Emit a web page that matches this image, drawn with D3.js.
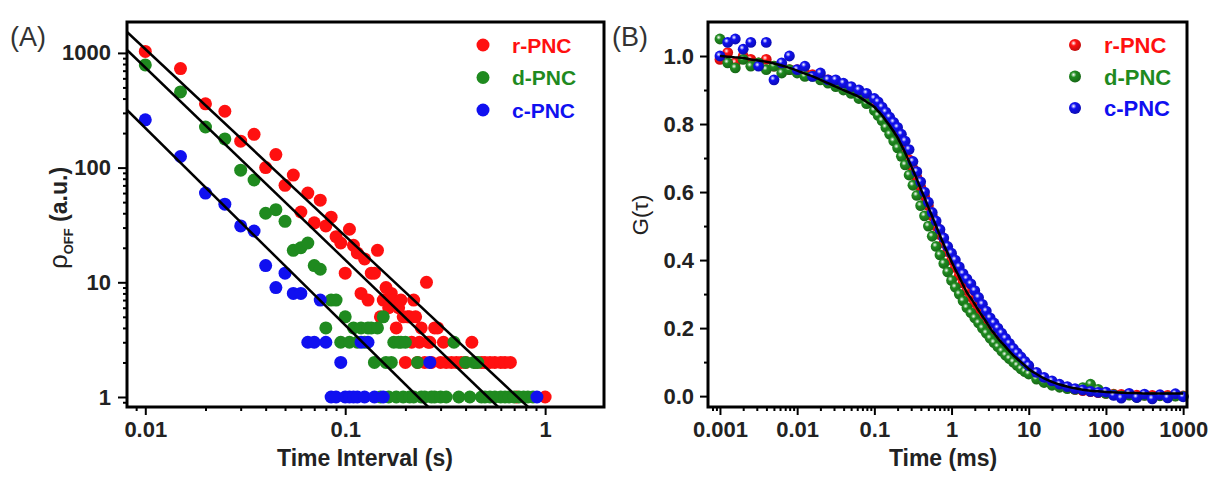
<!DOCTYPE html>
<html>
<head>
<meta charset="utf-8">
<script src="https://cdn.jsdelivr.net/npm/d3@7.9.0/dist/d3.min.js"></script>
<style>
  body { margin: 0; background: #fff; }
  text { font-family: "Liberation Sans", Arial, sans-serif; }
</style>
</head>
<body>
<script>
// ---- panel A: OFF-time distributions (time interval s, counts) ----
const rPNC_A = [[0.01,1030],[0.015,730],[0.02,360],[0.025,310],[0.03,170],[0.035,195],[0.04,100],[0.045,130],[0.05,70],[0.055,86],
  [0.06,41],[0.065,60],[0.07,33],[0.075,52],[0.08,31],[0.085,37],[0.09,25],[0.095,22],[0.1,12],[0.105,29],[0.11,21],[0.115,18],
  [0.12,8],[0.125,16],[0.13,7],[0.135,12],[0.14,12],[0.145,19],[0.15,5],[0.155,7],[0.16,9],[0.165,6],[0.17,8],[0.175,7],[0.18,4],
  [0.185,6],[0.19,7],[0.195,5],[0.2,2],[0.205,5],[0.21,5],[0.215,3],[0.22,7],[0.225,5],[0.23,2],[0.235,3],[0.24,4],[0.25,2],
  [0.255,10],[0.26,3],[0.265,3],[0.27,2],[0.28,4],[0.29,4],[0.3,2],[0.31,3],[0.32,2],[0.34,2],[0.36,2],[0.38,2],[0.4,2],[0.43,3],
  [0.45,2],[0.48,2],[0.5,2],[0.53,2],[0.56,2],[0.6,2],[0.63,2],[0.67,2],[0.72,1],[1.0,1]];
const dPNC_A = [[0.01,786],[0.015,457],[0.02,226],[0.025,178],[0.03,95],[0.035,78],[0.04,40],[0.045,43],[0.05,34],[0.055,19],
  [0.06,20],[0.065,22],[0.07,14],[0.075,13],[0.08,4],[0.085,7],[0.09,7],[0.095,3],[0.1,5],[0.105,3],[0.11,4],[0.115,3],[0.12,4],
  [0.125,3],[0.13,4],[0.135,4],[0.14,2],[0.145,4],[0.15,1],[0.155,5],[0.16,2],[0.165,1],[0.17,2],[0.175,3],[0.18,1],[0.185,3],
  [0.19,3],[0.195,1],[0.2,3],[0.21,1],[0.22,1],[0.23,2],[0.24,1],[0.25,1],[0.27,1],[0.28,1],[0.3,1],[0.32,1],[0.35,3],[0.37,1],
  [0.4,2],[0.42,1],[0.44,2],[0.46,2],[0.48,1],[0.5,1],[0.53,1],[0.56,1],[0.6,1],[0.63,1],[0.66,1],[0.7,1],[0.74,1],[0.78,1],
  [0.82,1],[0.87,1]];
const cPNC_A = [[0.01,261],[0.015,125],[0.02,60],[0.025,48],[0.03,31],[0.035,28],[0.04,14],[0.045,9],[0.05,12],[0.055,8],
  [0.06,8],[0.065,3],[0.07,3],[0.075,7],[0.08,3],[0.085,1],[0.09,1],[0.095,2],[0.1,1],[0.105,1],[0.11,1],[0.115,1],[0.12,3],
  [0.125,1],[0.13,3],[0.14,1],[0.155,1],[0.265,2],[0.91,1]];
// power-law fit lines, endpoints in data units
const fitsA = [
  { x0: 0.0081, y0: 1524, x1: 0.822, y1: 0.818 },
  { x0: 0.0081, y0: 1060, x1: 0.582, y1: 0.818 },
  { x0: 0.0081, y0: 318, x1: 0.26, y1: 0.818 }
];
const ticksAx = [0.01, 0.1, 1];
const ticksAy = [1, 10, 100, 1000];

// ---- panel B: FCS correlation curves (lag time ms) ----
const tauB = [0.001,0.00126,0.00158,0.002,0.00251,0.00316,0.00398,0.00501,0.00631,0.00794,
  0.01,0.0126,0.0158,0.02,0.0251,0.0316,0.0398,0.0501,0.0631,0.0794,
  0.1,0.112,0.126,0.141,0.158,0.178,0.2,0.224,0.251,0.282,0.316,0.355,0.398,0.447,0.501,0.562,0.631,0.708,0.794,0.891,
  1,1.12,1.26,1.41,1.58,1.78,2,2.24,2.51,2.82,3.16,3.55,3.98,4.47,5.01,5.62,6.31,7.08,7.94,8.91,
  10,12.6,15.8,20,25.1,31.6,39.8,50.1,63.1,79.4,
  100,126,158,200,251,316,398,501,631,794,1000];
const rPNC_B = [0.99,1.01,0.98,1.0,0.99,0.98,0.99,0.97,0.97,0.96,
  0.96,0.95,0.945,0.94,0.93,0.92,0.91,0.90,0.89,0.875,
  0.86,0.848,0.835,0.818,0.80,0.783,0.765,0.743,0.72,0.695,0.67,0.643,0.615,0.588,0.56,0.53,0.50,0.475,0.45,0.425,
  0.40,0.378,0.355,0.333,0.31,0.292,0.275,0.258,0.24,0.222,0.205,0.19,0.175,0.162,0.15,0.137,0.125,0.112,0.10,0.09,
  0.08,0.065,0.05,0.04,0.032,0.026,0.02,0.016,0.013,0.01,
  0.008,0.006,0.005,0.004,0.003,0.003,0.002,0.002,0.002,0.001,0.001];
const dPNC_B = [1.05,0.98,0.965,0.99,0.97,0.98,0.96,0.97,0.95,0.96,
  0.95,0.94,0.94,0.93,0.92,0.91,0.90,0.89,0.875,0.86,
  0.84,0.825,0.81,0.79,0.77,0.75,0.73,0.705,0.68,0.65,0.62,0.59,0.56,0.53,0.50,0.47,0.44,0.415,0.39,0.365,
  0.34,0.32,0.30,0.28,0.26,0.245,0.23,0.215,0.20,0.185,0.17,0.157,0.145,0.132,0.12,0.11,0.10,0.09,0.08,0.072,
  0.065,0.05,0.04,0.032,0.026,0.022,0.02,0.025,0.035,0.02,
  0.008,0.004,0.0,0.003,-0.004,0.002,-0.003,0.001,-0.002,0.0,-0.001];
const cPNC_B = [1.00,1.04,1.05,1.02,1.04,0.97,1.04,0.93,0.98,1.00,
  0.96,0.97,0.94,0.95,0.93,0.93,0.92,0.91,0.90,0.89,
  0.875,0.865,0.85,0.835,0.82,0.805,0.79,0.77,0.75,0.725,0.69,0.66,0.63,0.60,0.57,0.54,0.515,0.49,0.465,0.44,
  0.42,0.40,0.38,0.36,0.345,0.33,0.31,0.29,0.27,0.25,0.23,0.215,0.20,0.185,0.17,0.155,0.14,0.127,0.115,0.102,
  0.09,0.07,0.055,0.045,0.035,0.028,0.022,0.018,0.014,0.011,
  0.012,0.002,-0.006,0.008,-0.004,0.006,-0.008,0.004,-0.005,0.007,-0.002];
const fitB = [1.0,0.998,0.996,0.994,0.99,0.987,0.983,0.978,0.972,0.965,
  0.957,0.948,0.94,0.93,0.92,0.91,0.90,0.89,0.88,0.865,
  0.85,0.838,0.825,0.81,0.795,0.778,0.76,0.738,0.715,0.69,0.665,0.638,0.61,0.583,0.555,0.528,0.50,0.472,0.445,0.42,
  0.395,0.372,0.35,0.327,0.305,0.288,0.27,0.252,0.235,0.218,0.20,0.185,0.17,0.157,0.145,0.132,0.12,0.11,0.10,0.09,
  0.08,0.065,0.052,0.042,0.034,0.028,0.023,0.019,0.016,0.014,
  0.012,0.011,0.01,0.009,0.009,0.008,0.008,0.008,0.008,0.008,0.008];
const ticksBx = [0.001, 0.01, 0.1, 1, 10, 100, 1000];
const ticksBy = [0, 0.2, 0.4, 0.6, 0.8, 1.0];

const seriesNames = ['r-PNC', 'd-PNC', 'c-PNC'];
const colors = ['#ff1010', '#1f8a1f', '#1010f0'];

const svg = d3.select('body').append('svg')
  .attr('width', 1210).attr('height', 478);

const defs = svg.append('defs');
colors.forEach((c, i) => {
  const g = defs.append('radialGradient').attr('id', 'ball' + i)
    .attr('cx', '38%').attr('cy', '35%').attr('r', '65%');
  g.append('stop').attr('offset', '0%').attr('stop-color', '#fff');
  g.append('stop').attr('offset', '35%').attr('stop-color', c);
  g.append('stop').attr('offset', '100%').attr('stop-color', d3.color(c).darker(0.8));
});

// 2..9 minor ticks of a log scale, only those inside its domain
function minorLog(scale) {
  const [lo, hi] = scale.domain();
  const out = [];
  for (let e = Math.floor(Math.log10(lo)); e <= Math.ceil(Math.log10(hi)); e++) {
    for (let k = 2; k <= 9; k++) {
      const v = k * Math.pow(10, e);
      if (v > lo && v < hi) out.push(v);
    }
  }
  return out;
}

function styleAxis(g, fontSize) {
  g.select('.domain').remove();
  g.selectAll('line').attr('stroke', '#000').attr('stroke-width', 2);
  g.selectAll('text').attr('font-size', fontSize).attr('font-weight', 'bold').attr('fill', '#222');
}

// ================= Panel A =================
const xA = d3.scaleLog().domain([0.0081, 1.97]).range([127, 604]);
const yA = d3.scaleLog().domain([0.818, 1860]).range([407, 22]);
const pA = svg.append('g');

const clipA = defs.append('clipPath').attr('id', 'clipA');
clipA.append('rect').attr('x', 127).attr('y', 22).attr('width', 477).attr('height', 385);

const dotsA = pA.append('g').attr('clip-path', 'url(#clipA)');
[rPNC_A, dPNC_A, cPNC_A].forEach((ser, i) => {
  dotsA.selectAll('.d' + i).data(ser).join('circle')
    .attr('cx', d => xA(d[0])).attr('cy', d => yA(d[1]))
    .attr('r', 6.5).attr('fill', colors[i]);
});
dotsA.selectAll('line.fit').data(fitsA).join('line')
  .attr('x1', d => xA(d.x0)).attr('y1', d => yA(d.y0))
  .attr('x2', d => xA(d.x1)).attr('y2', d => yA(d.y1))
  .attr('stroke', '#000').attr('stroke-width', 2.5);

pA.append('g').attr('transform', 'translate(0,407)')
  .call(d3.axisBottom(xA).tickValues(minorLog(xA)).tickSize(4).tickFormat(''))
  .call(g => styleAxis(g, 22));
pA.append('g').attr('transform', 'translate(0,407)')
  .call(d3.axisBottom(xA).tickValues(ticksAx).tickSize(8).tickPadding(6).tickFormat(d3.format('')))
  .call(g => styleAxis(g, 22));
pA.append('g').attr('transform', 'translate(127,0)')
  .call(d3.axisLeft(yA).tickValues(minorLog(yA)).tickSize(4).tickFormat(''))
  .call(g => styleAxis(g, 22));
pA.append('g').attr('transform', 'translate(127,0)')
  .call(d3.axisLeft(yA).tickValues(ticksAy).tickSize(9).tickPadding(7).tickFormat(d3.format('')))
  .call(g => styleAxis(g, 22));

pA.append('rect').attr('x', 127).attr('y', 22).attr('width', 477).attr('height', 385)
  .attr('fill', 'none').attr('stroke', '#000').attr('stroke-width', 3);

pA.append('text').attr('x', 365).attr('y', 466).attr('text-anchor', 'middle')
  .attr('font-size', 23).attr('font-weight', 'bold').attr('fill', '#222')
  .text('Time Interval (s)');
const yTitleA = pA.append('text').attr('transform', 'translate(67,218) rotate(-90)')
  .attr('text-anchor', 'middle').attr('fill', '#222').attr('font-size', 23);
yTitleA.append('tspan').attr('font-size', 26).text('ρ');
yTitleA.append('tspan').attr('font-size', 13).attr('font-weight', 'bold').attr('dy', 6).text('OFF');
yTitleA.append('tspan').attr('font-weight', 'bold').attr('dy', -6).text(' (a.u.)');
pA.append('text').attr('x', 10).attr('y', 46).attr('font-size', 27).attr('fill', '#333').text('(A)');

const legA = pA.append('g');
seriesNames.forEach((name, i) => {
  legA.append('circle').attr('cx', 483).attr('cy', 45 + i * 32.5).attr('r', 6.5).attr('fill', colors[i]);
  legA.append('text').attr('x', 512).attr('y', 45 + i * 32.5 + 7.5)
    .attr('font-size', 21).attr('font-weight', 'bold').attr('fill', colors[i]).text(name);
});

// ================= Panel B =================
const xB = d3.scaleLog().domain([0.0007, 1122]).range([708, 1187]);
const yB = d3.scaleLinear().domain([-0.032, 1.1]).range([407, 22]);
const pB = svg.append('g');

[rPNC_B, dPNC_B, cPNC_B].forEach((ser, i) => {
  pB.append('g').selectAll('circle').data(ser).join('circle')
    .attr('cx', (d, j) => xB(tauB[j])).attr('cy', d => yB(d))
    .attr('r', 5.4).attr('fill', `url(#ball${i})`);
});
pB.append('path').datum(fitB)
  .attr('d', d3.line().x((d, j) => xB(tauB[j])).y(d => yB(d)).curve(d3.curveMonotoneX))
  .attr('fill', 'none').attr('stroke', '#000').attr('stroke-width', 2.5);

pB.append('g').attr('transform', 'translate(0,407)')
  .call(d3.axisBottom(xB).tickValues(minorLog(xB)).tickSize(4).tickFormat(''))
  .call(g => styleAxis(g, 22));
pB.append('g').attr('transform', 'translate(0,407)')
  .call(d3.axisBottom(xB).tickValues(ticksBx).tickSize(8).tickPadding(6).tickFormat(d3.format('')))
  .call(g => styleAxis(g, 22));
pB.append('g').attr('transform', 'translate(708,0)')
  .call(d3.axisLeft(yB).tickValues([0.1, 0.3, 0.5, 0.7, 0.9]).tickSize(4).tickFormat(''))
  .call(g => styleAxis(g, 22));
pB.append('g').attr('transform', 'translate(708,0)')
  .call(d3.axisLeft(yB).tickValues(ticksBy).tickSize(8).tickPadding(6).tickFormat(d3.format('.1f')))
  .call(g => styleAxis(g, 22));

pB.append('rect').attr('x', 708).attr('y', 22).attr('width', 479).attr('height', 385)
  .attr('fill', 'none').attr('stroke', '#000').attr('stroke-width', 3);

pB.append('text').attr('x', 943).attr('y', 466).attr('text-anchor', 'middle')
  .attr('font-size', 23).attr('font-weight', 'bold').attr('fill', '#222')
  .text('Time (ms)');
pB.append('text').attr('transform', 'translate(648,215) rotate(-90)')
  .attr('text-anchor', 'middle').attr('font-size', 22).attr('fill', '#222').text('G(τ)');
pB.append('text').attr('x', 612).attr('y', 46).attr('font-size', 27).attr('fill', '#333').text('(B)');

const legB = pB.append('g');
seriesNames.forEach((name, i) => {
  legB.append('circle').attr('cx', 1075).attr('cy', 45 + i * 31.5).attr('r', 6).attr('fill', `url(#ball${i})`);
  legB.append('text').attr('x', 1104).attr('y', 45 + i * 31.5 + 8)
    .attr('font-size', 22).attr('font-weight', 'bold').attr('fill', colors[i]).text(name);
});
</script>
</body>
</html>
